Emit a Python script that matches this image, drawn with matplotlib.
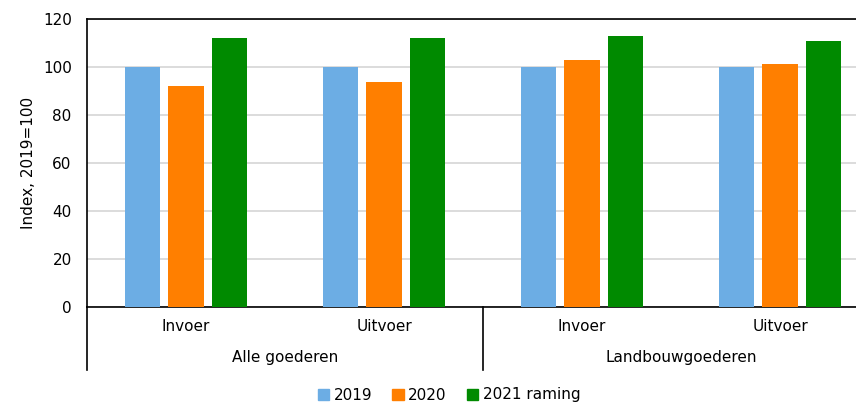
import matplotlib.pyplot as plt
import matplotlib.transforms as mtransforms
from matplotlib.patches import Patch
import numpy as np

groups = ["Alle goederen", "Landbouwgoederen"]
flows = ["Invoer", "Uitvoer", "Invoer", "Uitvoer"]
series = ["2019", "2020", "2021 raming"]
v2019 = [100, 100, 100, 100]
v2020 = [92.1, 93.6, 102.8, 101.2]
v2021 = [112.0, 112.0, 112.9, 110.7]
colors = ["#6CADE4", "#FF7F00", "#008A00"]

plt.rcParams['font.family'] = ['DejaVu Sans']
plt.rcParams['font.size'] = 11

fig = plt.figure(figsize=(8.56, 4.04), dpi=100)
ax = fig.add_axes([87/856, 97/404, 792/856, 288/404])

x = np.arange(len(flows))
w = 0.177
step = 0.222
for i, (vals, c) in enumerate(zip([v2019, v2020, v2021], colors)):
    ax.bar(x + (i - 1) * step, vals, width=w, color=c, zorder=3)

ax.set_xlim(-0.5, 3.5)
ax.set_ylim(0, 120)
ax.set_yticks(range(0, 121, 20))
ax.yaxis.grid(True, color="#D9D9D9", lw=1.3, zorder=0)
ax.set_xticks([])
ax.tick_params(axis="y", length=0, pad=11, labelsize=11)
for s in ["left", "top", "bottom", "right"]:
    ax.spines[s].set_color("black")
    ax.spines[s].set_linewidth(1.2)
ax.set_ylabel("Index, 2019=100", fontsize=11, labelpad=5)

# two-level category axis
trans = mtransforms.blended_transform_factory(ax.transData, ax.transAxes)
for xi, lab in zip(x, flows):
    ax.text(xi, -0.069, lab, transform=trans, ha="center", va="center", fontsize=11)
for gi, g in enumerate(groups):
    ax.text(0.5 + 2 * gi, -0.177, g, transform=trans, ha="center", va="center", fontsize=11)
for xs in [-0.5, 1.5, 3.5]:
    ax.plot([xs, xs], [0, -0.219], transform=trans, color="black", lw=1.2, clip_on=False)

handles = [Patch(color=c, label=s) for c, s in zip(colors, series)]
fig.legend(handles=handles, loc="center", bbox_to_anchor=(449/856, 9/404), ncol=3,
           frameon=False, handlelength=0.75, handleheight=0.75, handletextpad=0.3,
           columnspacing=1.3, fontsize=11)

fig.savefig("out.png", dpi=100)
